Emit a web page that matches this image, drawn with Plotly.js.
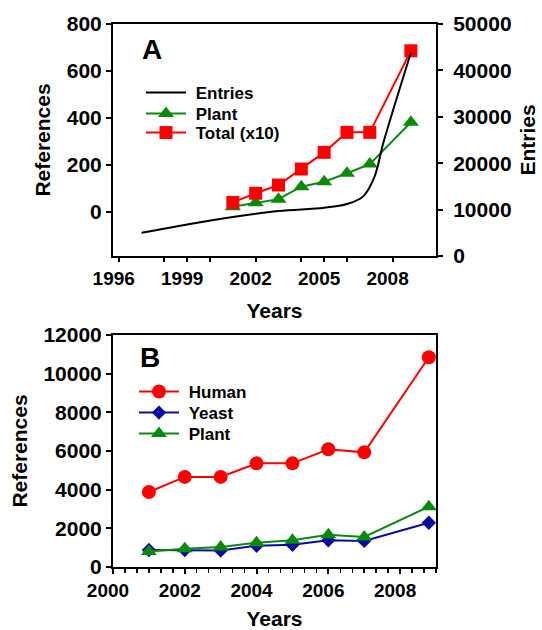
<!DOCTYPE html>
<html>
<head>
<meta charset="utf-8">
<script src="https://cdn.plot.ly/plotly-3.0.1.min.js"></script>
<style>
  html, body { margin: 0; padding: 0; background: #fff; }
  #chart { width: 542px; height: 630px; }
</style>
</head>
<body>
<div id="chart"></div>
<script>
// Panel A: database entries (right axis) and yearly references (left axis)
const entryYears = [1997, 1999, 2001, 2003, 2005, 2006, 2006.7, 2007.2, 2007.6, 2008.8];
const entryCounts = [5000, 6800, 8400, 9700, 10400, 11200, 12800, 17000, 24500, 43800];

const refYears = [2001, 2002, 2003, 2004, 2005, 2006, 2007, 2008.8];
const plantRefsA = [23, 40, 55, 108, 129, 165, 204, 382];
const totalRefsX10 = [41, 80, 115, 183, 254, 339, 339, 686];

const yearTicksA = [1996, 1998, 1999, 2000, 2002, 2004, 2005, 2006, 2008];
const yearTickTextA = ['1996', '', '1999', '', '2002', '', '2005', '', '2008'];

// Panel B: references per organism
const humanRefs = [3880, 4660, 4660, 5360, 5360, 6090, 5930, 10850];
const yeastRefs = [880, 880, 850, 1100, 1150, 1380, 1350, 2290];
const plantRefsB = [800, 950, 1040, 1260, 1380, 1670, 1550, 3120];

const RED = '#ff0000';
const GREEN = '#0a8a0a';
const BLUE = '#0a0aa0';
const FONT = 'Liberation Sans, Arial, sans-serif';
const GAP = '\u00a0';  // small gap between legend symbol and label

const traces = [
  {
    x: entryYears, y: entryCounts, name: GAP + 'Entries',
    type: 'scatter', mode: 'lines',
    line: { color: '#000', width: 2, shape: 'spline', smoothing: 1 },
    xaxis: 'x', yaxis: 'y2', legend: 'legend'
  },
  {
    x: refYears, y: plantRefsA, name: GAP + 'Plant',
    type: 'scatter', mode: 'lines+markers',
    line: { color: GREEN, width: 2 },
    marker: { symbol: 'triangle-up', size: 14, color: GREEN },
    xaxis: 'x', yaxis: 'y', legend: 'legend2'
  },
  {
    x: refYears, y: totalRefsX10, name: GAP + 'Total (x10)',
    type: 'scatter', mode: 'lines+markers',
    line: { color: RED, width: 2 },
    marker: { symbol: 'square', size: 13, color: RED },
    xaxis: 'x', yaxis: 'y', legend: 'legend3'
  },
  {
    x: refYears, y: humanRefs, name: GAP + 'Human',
    type: 'scatter', mode: 'lines+markers',
    line: { color: RED, width: 2 },
    marker: { symbol: 'circle', size: 14, color: RED },
    xaxis: 'x2', yaxis: 'y3', legend: 'legend4'
  },
  {
    x: refYears, y: yeastRefs, name: GAP + 'Yeast',
    type: 'scatter', mode: 'lines+markers',
    line: { color: BLUE, width: 2 },
    marker: { symbol: 'diamond', size: 11, color: BLUE },
    xaxis: 'x2', yaxis: 'y3', legend: 'legend5'
  },
  {
    x: refYears, y: plantRefsB, name: GAP + 'Plant',
    type: 'scatter', mode: 'lines+markers',
    line: { color: GREEN, width: 2 },
    marker: { symbol: 'triangle-up', size: 14, color: GREEN },
    xaxis: 'x2', yaxis: 'y3', legend: 'legend6'
  }
];

const xTickFont = { family: FONT, size: 19, color: '#000', weight: 'bold' };
const yTickFont = { family: FONT, size: 21, color: '#000', weight: 'bold' };
const titleFont = { family: FONT, size: 21, color: '#000', weight: 'bold' };
const legendFont = { family: FONT, size: 17, color: '#000', weight: 'bold' };

const axisBase = {
  showgrid: false, zeroline: false,
  showline: true, linecolor: '#000', linewidth: 2,
  ticks: 'outside', ticklen: 5, tickwidth: 2, tickcolor: '#000',
  tickformat: 'd', fixedrange: true
};

// one legend per entry so the rows can sit close together
function legendAt(x, y) {
  return {
    x: x, y: y, xanchor: 'left', yanchor: 'top',
    bgcolor: 'rgba(0,0,0,0)', borderwidth: 0,
    font: legendFont, itemwidth: 40
  };
}

const layout = {
  width: 542, height: 630,
  margin: { l: 113, r: 106, t: 24, b: 63 },
  paper_bgcolor: '#fff', plot_bgcolor: '#fff',
  font: { family: FONT, color: '#000' },
  xaxis: Object.assign({}, axisBase, {
    domain: [0, 1], anchor: 'y',
    range: [1995.75, 2009.9],
    tickmode: 'array', tickvals: yearTicksA, ticktext: yearTickTextA,
    ticklen: 4, mirror: true, ticklabelshift: -5, tickfont: xTickFont,
    title: { text: 'Years', font: titleFont, standoff: 15 }
  }),
  yaxis: Object.assign({}, axisBase, {
    domain: [0.5727, 1], anchor: 'x',
    range: [-187, 800], tick0: 0, dtick: 200, tickfont: yTickFont,
    title: { text: 'References', font: titleFont, standoff: 10 }
  }),
  yaxis2: Object.assign({}, axisBase, {
    overlaying: 'y', side: 'right', anchor: 'x',
    range: [0, 50000], tick0: 0, dtick: 10000, tickfont: yTickFont,
    ticklabelstandoff: 6,
    title: { text: 'Entries', font: titleFont, standoff: 10 }
  }),
  xaxis2: Object.assign({}, axisBase, {
    domain: [0, 1], anchor: 'y3',
    range: [2000, 2009], tick0: 2000, dtick: 2,
    mirror: true, ticklabelshift: -5, tickfont: xTickFont,
    minor: { tick0: 2000, dtick: 1 / 3, ticks: 'outside', ticklen: 4, tickwidth: 1.5, tickcolor: '#000' },
    title: { text: 'Years', font: titleFont, standoff: 17 }
  }),
  yaxis3: Object.assign({}, axisBase, {
    domain: [0, 0.4273], anchor: 'x2',
    range: [0, 12000], tick0: 0, dtick: 2000, mirror: true, tickfont: yTickFont,
    title: { text: 'References', font: titleFont, standoff: 10 }
  }),
  legend: legendAt(0.0867, 0.9061),
  legend2: legendAt(0.0867, 0.8674),
  legend3: legendAt(0.0867, 0.8324),
  legend4: legendAt(0.065, 0.3554),
  legend5: legendAt(0.065, 0.3168),
  legend6: legendAt(0.065, 0.2781),
  annotations: [
    { text: 'A', xref: 'x domain', yref: 'y domain', x: 0.084, y: 0.892,
      xanchor: 'left', yanchor: 'middle', showarrow: false,
      font: { family: FONT, size: 28, color: '#000', weight: 'bold' } },
    { text: 'B', xref: 'x2 domain', yref: 'y3 domain', x: 0.077, y: 0.905,
      xanchor: 'left', yanchor: 'middle', showarrow: false,
      font: { family: FONT, size: 28, color: '#000', weight: 'bold' } }
  ],
  showlegend: true
};

Plotly.newPlot('chart', traces, layout, { staticPlot: true, displayModeBar: false });
</script>
</body>
</html>
